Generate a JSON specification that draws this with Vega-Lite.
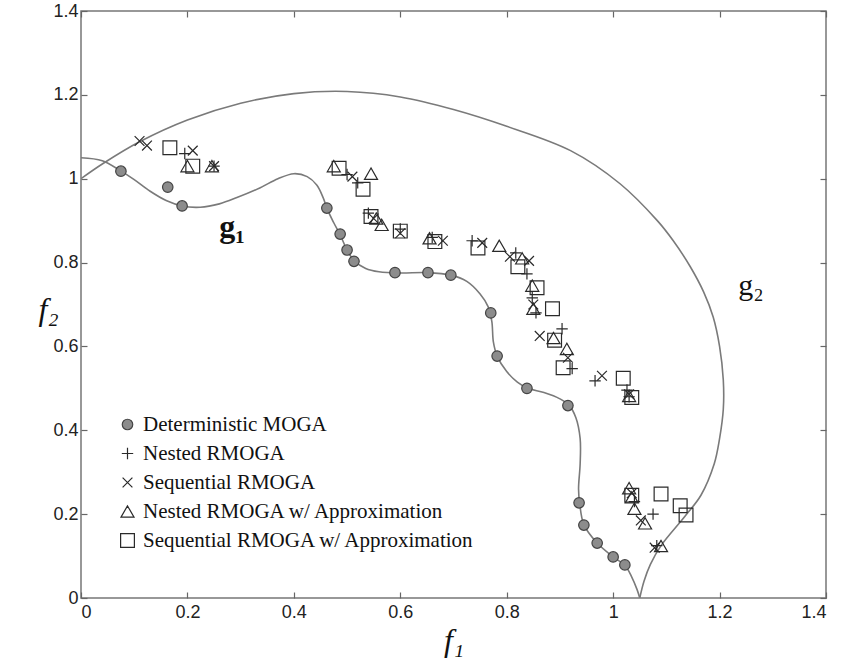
{
  "$schema": "https://vega.github.io/schema/vega-lite/v6.json",
  "autosize": {"type": "none"},
  "width": 745,
  "height": 587,
  "padding": {"left": 81, "top": 11, "right": 17, "bottom": 65},
  "background": "white",
  "config": {
    "view": {"stroke": "#777", "strokeWidth": 1.5},
    "axis": {
      "grid": false,
      "domain": false,
      "tickColor": "#666",
      "tickSize": -6,
      "tickWidth": 1.2,
      "labelFont": "Liberation Sans",
      "labelFontSize": 18,
      "labelColor": "#222",
      "titleFont": "Liberation Serif",
      "titleFontStyle": "italic",
      "titleFontWeight": "normal",
      "titleFontSize": 32,
      "titleColor": "#111"
    }
  },
  "datasets": {
    "curves": [
      {"curve": "g1", "i": 0, "f1": 0, "f2": 1.05},
      {"curve": "g1", "i": 1, "f1": 0.04, "f2": 1.043},
      {"curve": "g1", "i": 2, "f1": 0.073, "f2": 1.02},
      {"curve": "g1", "i": 3, "f1": 0.1, "f2": 0.998},
      {"curve": "g1", "i": 4, "f1": 0.13, "f2": 0.97},
      {"curve": "g1", "i": 5, "f1": 0.16, "f2": 0.948},
      {"curve": "g1", "i": 6, "f1": 0.19, "f2": 0.935},
      {"curve": "g1", "i": 7, "f1": 0.224, "f2": 0.932},
      {"curve": "g1", "i": 8, "f1": 0.26, "f2": 0.94},
      {"curve": "g1", "i": 9, "f1": 0.293, "f2": 0.955},
      {"curve": "g1", "i": 10, "f1": 0.336, "f2": 0.978},
      {"curve": "g1", "i": 11, "f1": 0.37, "f2": 1.0},
      {"curve": "g1", "i": 12, "f1": 0.4, "f2": 1.012},
      {"curve": "g1", "i": 13, "f1": 0.425, "f2": 1.005},
      {"curve": "g1", "i": 14, "f1": 0.443, "f2": 0.985},
      {"curve": "g1", "i": 15, "f1": 0.455, "f2": 0.955},
      {"curve": "g1", "i": 16, "f1": 0.463, "f2": 0.927},
      {"curve": "g1", "i": 17, "f1": 0.475, "f2": 0.895},
      {"curve": "g1", "i": 18, "f1": 0.487, "f2": 0.866},
      {"curve": "g1", "i": 19, "f1": 0.5, "f2": 0.83},
      {"curve": "g1", "i": 20, "f1": 0.513, "f2": 0.805},
      {"curve": "g1", "i": 21, "f1": 0.535, "f2": 0.786},
      {"curve": "g1", "i": 22, "f1": 0.56, "f2": 0.778},
      {"curve": "g1", "i": 23, "f1": 0.6, "f2": 0.775},
      {"curve": "g1", "i": 24, "f1": 0.65, "f2": 0.776},
      {"curve": "g1", "i": 25, "f1": 0.695, "f2": 0.77},
      {"curve": "g1", "i": 26, "f1": 0.725, "f2": 0.755},
      {"curve": "g1", "i": 27, "f1": 0.75, "f2": 0.725},
      {"curve": "g1", "i": 28, "f1": 0.765, "f2": 0.695},
      {"curve": "g1", "i": 29, "f1": 0.772, "f2": 0.66},
      {"curve": "g1", "i": 30, "f1": 0.775, "f2": 0.61},
      {"curve": "g1", "i": 31, "f1": 0.782, "f2": 0.577},
      {"curve": "g1", "i": 32, "f1": 0.8, "f2": 0.54},
      {"curve": "g1", "i": 33, "f1": 0.82, "f2": 0.515},
      {"curve": "g1", "i": 34, "f1": 0.84, "f2": 0.5},
      {"curve": "g1", "i": 35, "f1": 0.87, "f2": 0.49},
      {"curve": "g1", "i": 36, "f1": 0.9, "f2": 0.475},
      {"curve": "g1", "i": 37, "f1": 0.917, "f2": 0.46},
      {"curve": "g1", "i": 38, "f1": 0.93, "f2": 0.43},
      {"curve": "g1", "i": 39, "f1": 0.938, "f2": 0.38},
      {"curve": "g1", "i": 40, "f1": 0.938, "f2": 0.32},
      {"curve": "g1", "i": 41, "f1": 0.935, "f2": 0.26},
      {"curve": "g1", "i": 42, "f1": 0.937, "f2": 0.227},
      {"curve": "g1", "i": 43, "f1": 0.945, "f2": 0.175},
      {"curve": "g1", "i": 44, "f1": 0.97, "f2": 0.131},
      {"curve": "g1", "i": 45, "f1": 1.0, "f2": 0.098},
      {"curve": "g1", "i": 46, "f1": 1.022, "f2": 0.078},
      {"curve": "g1", "i": 47, "f1": 1.035, "f2": 0.05},
      {"curve": "g1", "i": 48, "f1": 1.045, "f2": 0.02},
      {"curve": "g1", "i": 49, "f1": 1.05, "f2": 0.0},
      {"curve": "g2", "i": 0, "f1": 0, "f2": 1.0},
      {"curve": "g2", "i": 1, "f1": 0.04, "f2": 1.035},
      {"curve": "g2", "i": 2, "f1": 0.11, "f2": 1.088},
      {"curve": "g2", "i": 3, "f1": 0.2, "f2": 1.14},
      {"curve": "g2", "i": 4, "f1": 0.3, "f2": 1.18},
      {"curve": "g2", "i": 5, "f1": 0.4, "f2": 1.203},
      {"curve": "g2", "i": 6, "f1": 0.5, "f2": 1.208},
      {"curve": "g2", "i": 7, "f1": 0.6, "f2": 1.195},
      {"curve": "g2", "i": 8, "f1": 0.7, "f2": 1.165},
      {"curve": "g2", "i": 9, "f1": 0.8, "f2": 1.125},
      {"curve": "g2", "i": 10, "f1": 0.92, "f2": 1.067},
      {"curve": "g2", "i": 11, "f1": 1.013, "f2": 0.988},
      {"curve": "g2", "i": 12, "f1": 1.083, "f2": 0.9},
      {"curve": "g2", "i": 13, "f1": 1.113, "f2": 0.852},
      {"curve": "g2", "i": 14, "f1": 1.145, "f2": 0.79},
      {"curve": "g2", "i": 15, "f1": 1.17, "f2": 0.73},
      {"curve": "g2", "i": 16, "f1": 1.188, "f2": 0.67},
      {"curve": "g2", "i": 17, "f1": 1.2, "f2": 0.6},
      {"curve": "g2", "i": 18, "f1": 1.207, "f2": 0.52},
      {"curve": "g2", "i": 19, "f1": 1.207, "f2": 0.45},
      {"curve": "g2", "i": 20, "f1": 1.2, "f2": 0.38},
      {"curve": "g2", "i": 21, "f1": 1.19, "f2": 0.32},
      {"curve": "g2", "i": 22, "f1": 1.165, "f2": 0.245},
      {"curve": "g2", "i": 23, "f1": 1.135, "f2": 0.195},
      {"curve": "g2", "i": 24, "f1": 1.09, "f2": 0.125},
      {"curve": "g2", "i": 25, "f1": 1.07, "f2": 0.08},
      {"curve": "g2", "i": 26, "f1": 1.058, "f2": 0.04},
      {"curve": "g2", "i": 27, "f1": 1.05, "f2": 0.0}
    ],
    "points": [
      {"series": "Deterministic MOGA", "f1": 0.075, "f2": 1.018},
      {"series": "Deterministic MOGA", "f1": 0.163, "f2": 0.98},
      {"series": "Deterministic MOGA", "f1": 0.19, "f2": 0.935},
      {"series": "Deterministic MOGA", "f1": 0.462, "f2": 0.93},
      {"series": "Deterministic MOGA", "f1": 0.487, "f2": 0.868},
      {"series": "Deterministic MOGA", "f1": 0.5, "f2": 0.83},
      {"series": "Deterministic MOGA", "f1": 0.513, "f2": 0.803},
      {"series": "Deterministic MOGA", "f1": 0.59, "f2": 0.776},
      {"series": "Deterministic MOGA", "f1": 0.652, "f2": 0.776},
      {"series": "Deterministic MOGA", "f1": 0.695, "f2": 0.77},
      {"series": "Deterministic MOGA", "f1": 0.77, "f2": 0.68},
      {"series": "Deterministic MOGA", "f1": 0.782, "f2": 0.577},
      {"series": "Deterministic MOGA", "f1": 0.838, "f2": 0.5},
      {"series": "Deterministic MOGA", "f1": 0.915, "f2": 0.459},
      {"series": "Deterministic MOGA", "f1": 0.936, "f2": 0.227},
      {"series": "Deterministic MOGA", "f1": 0.945, "f2": 0.174},
      {"series": "Deterministic MOGA", "f1": 0.97, "f2": 0.131},
      {"series": "Deterministic MOGA", "f1": 1.0, "f2": 0.098},
      {"series": "Deterministic MOGA", "f1": 1.022, "f2": 0.079},
      {"series": "Nested RMOGA", "f1": 0.195, "f2": 1.06},
      {"series": "Nested RMOGA", "f1": 0.25, "f2": 1.03},
      {"series": "Nested RMOGA", "f1": 0.5, "f2": 1.01},
      {"series": "Nested RMOGA", "f1": 0.52, "f2": 0.99},
      {"series": "Nested RMOGA", "f1": 0.54, "f2": 0.918},
      {"series": "Nested RMOGA", "f1": 0.6, "f2": 0.88},
      {"series": "Nested RMOGA", "f1": 0.66, "f2": 0.86},
      {"series": "Nested RMOGA", "f1": 0.735, "f2": 0.852},
      {"series": "Nested RMOGA", "f1": 0.817, "f2": 0.823},
      {"series": "Nested RMOGA", "f1": 0.838, "f2": 0.773},
      {"series": "Nested RMOGA", "f1": 0.848, "f2": 0.716},
      {"series": "Nested RMOGA", "f1": 0.855, "f2": 0.68},
      {"series": "Nested RMOGA", "f1": 0.904, "f2": 0.642},
      {"series": "Nested RMOGA", "f1": 0.923, "f2": 0.547},
      {"series": "Nested RMOGA", "f1": 0.966, "f2": 0.518},
      {"series": "Nested RMOGA", "f1": 1.026, "f2": 0.496},
      {"series": "Nested RMOGA", "f1": 1.03, "f2": 0.48},
      {"series": "Nested RMOGA", "f1": 1.04, "f2": 0.23},
      {"series": "Nested RMOGA", "f1": 1.075, "f2": 0.2},
      {"series": "Nested RMOGA", "f1": 1.082, "f2": 0.125},
      {"series": "Sequential RMOGA", "f1": 0.11, "f2": 1.09},
      {"series": "Sequential RMOGA", "f1": 0.124, "f2": 1.079},
      {"series": "Sequential RMOGA", "f1": 0.21, "f2": 1.067},
      {"series": "Sequential RMOGA", "f1": 0.25, "f2": 1.03},
      {"series": "Sequential RMOGA", "f1": 0.51, "f2": 1.005},
      {"series": "Sequential RMOGA", "f1": 0.55, "f2": 0.905},
      {"series": "Sequential RMOGA", "f1": 0.6, "f2": 0.87},
      {"series": "Sequential RMOGA", "f1": 0.68, "f2": 0.852},
      {"series": "Sequential RMOGA", "f1": 0.754, "f2": 0.847},
      {"series": "Sequential RMOGA", "f1": 0.806, "f2": 0.814},
      {"series": "Sequential RMOGA", "f1": 0.842, "f2": 0.804},
      {"series": "Sequential RMOGA", "f1": 0.85, "f2": 0.7},
      {"series": "Sequential RMOGA", "f1": 0.862, "f2": 0.625},
      {"series": "Sequential RMOGA", "f1": 0.915, "f2": 0.573},
      {"series": "Sequential RMOGA", "f1": 0.979, "f2": 0.53},
      {"series": "Sequential RMOGA", "f1": 1.03, "f2": 0.486},
      {"series": "Sequential RMOGA", "f1": 1.035, "f2": 0.25},
      {"series": "Sequential RMOGA", "f1": 1.052, "f2": 0.185},
      {"series": "Sequential RMOGA", "f1": 1.078, "f2": 0.12},
      {"series": "Nested RMOGA w/ Approximation", "f1": 0.2, "f2": 1.03},
      {"series": "Nested RMOGA w/ Approximation", "f1": 0.246, "f2": 1.03},
      {"series": "Nested RMOGA w/ Approximation", "f1": 0.475, "f2": 1.03},
      {"series": "Nested RMOGA w/ Approximation", "f1": 0.545, "f2": 1.012},
      {"series": "Nested RMOGA w/ Approximation", "f1": 0.555, "f2": 0.905},
      {"series": "Nested RMOGA w/ Approximation", "f1": 0.565, "f2": 0.89},
      {"series": "Nested RMOGA w/ Approximation", "f1": 0.655, "f2": 0.858},
      {"series": "Nested RMOGA w/ Approximation", "f1": 0.786, "f2": 0.84},
      {"series": "Nested RMOGA w/ Approximation", "f1": 0.829, "f2": 0.81},
      {"series": "Nested RMOGA w/ Approximation", "f1": 0.848, "f2": 0.745},
      {"series": "Nested RMOGA w/ Approximation", "f1": 0.85, "f2": 0.69},
      {"series": "Nested RMOGA w/ Approximation", "f1": 0.888, "f2": 0.62},
      {"series": "Nested RMOGA w/ Approximation", "f1": 0.913, "f2": 0.594},
      {"series": "Nested RMOGA w/ Approximation", "f1": 1.03, "f2": 0.482},
      {"series": "Nested RMOGA w/ Approximation", "f1": 1.03, "f2": 0.262},
      {"series": "Nested RMOGA w/ Approximation", "f1": 1.035, "f2": 0.24},
      {"series": "Nested RMOGA w/ Approximation", "f1": 1.04, "f2": 0.213},
      {"series": "Nested RMOGA w/ Approximation", "f1": 1.06, "f2": 0.178},
      {"series": "Nested RMOGA w/ Approximation", "f1": 1.09, "f2": 0.124},
      {"series": "Sequential RMOGA w/ Approximation", "f1": 0.167, "f2": 1.074},
      {"series": "Sequential RMOGA w/ Approximation", "f1": 0.21, "f2": 1.03},
      {"series": "Sequential RMOGA w/ Approximation", "f1": 0.485, "f2": 1.025},
      {"series": "Sequential RMOGA w/ Approximation", "f1": 0.53, "f2": 0.975},
      {"series": "Sequential RMOGA w/ Approximation", "f1": 0.545, "f2": 0.91},
      {"series": "Sequential RMOGA w/ Approximation", "f1": 0.6, "f2": 0.875},
      {"series": "Sequential RMOGA w/ Approximation", "f1": 0.665, "f2": 0.85},
      {"series": "Sequential RMOGA w/ Approximation", "f1": 0.746, "f2": 0.835},
      {"series": "Sequential RMOGA w/ Approximation", "f1": 0.821, "f2": 0.79},
      {"series": "Sequential RMOGA w/ Approximation", "f1": 0.857, "f2": 0.74},
      {"series": "Sequential RMOGA w/ Approximation", "f1": 0.886, "f2": 0.69},
      {"series": "Sequential RMOGA w/ Approximation", "f1": 0.89, "f2": 0.615},
      {"series": "Sequential RMOGA w/ Approximation", "f1": 0.906, "f2": 0.549},
      {"series": "Sequential RMOGA w/ Approximation", "f1": 1.019, "f2": 0.524},
      {"series": "Sequential RMOGA w/ Approximation", "f1": 1.035, "f2": 0.478},
      {"series": "Sequential RMOGA w/ Approximation", "f1": 1.035, "f2": 0.245},
      {"series": "Sequential RMOGA w/ Approximation", "f1": 1.09, "f2": 0.248},
      {"series": "Sequential RMOGA w/ Approximation", "f1": 1.126, "f2": 0.22},
      {"series": "Sequential RMOGA w/ Approximation", "f1": 1.137, "f2": 0.198}
    ],
    "labels": [
      {"label": "g₁", "f1": 0.26, "f2": 0.885, "w": "bold"},
      {"label": "g₂", "f1": 1.235, "f2": 0.745, "w": "normal"}
    ]
  },
  "resolve": {"axis": {"x": "independent", "y": "independent"}},
  "layer": [
    {
      "data": {"name": "curves"},
      "mark": {"type": "line", "color": "#7a7a7a", "strokeWidth": 1.6, "clip": true, "interpolate": "catmull-rom"},
      "encoding": {
        "x": {
          "field": "f1", "type": "quantitative",
          "scale": {"domain": [0, 1.4], "nice": false, "zero": false},
          "axis": {"values": [0, 0.2, 0.4, 0.6, 0.8, 1, 1.2, 1.4], "format": "~g", "title": "f₁", "labelFontSize": 18, "labelPadding": 11, "titlePadding": 4}
        },
        "y": {
          "field": "f2", "type": "quantitative",
          "scale": {"domain": [0, 1.4], "nice": false, "zero": false},
          "axis": {"values": [0, 0.2, 0.4, 0.6, 0.8, 1, 1.2, 1.4], "format": "~g", "title": "f₂", "labelFontSize": 18, "labelPadding": 9, "titleAngle": 0, "titleX": -33, "titleY": 298, "titleAlign": "center", "titleBaseline": "middle"}
        },
        "detail": {"field": "curve"},
        "order": {"field": "i", "type": "quantitative"}
      }
    },
    {
      "data": {"name": "points"},
      "mark": {"type": "point", "filled": true, "opacity": 1, "strokeWidth": 1.2, "clip": true},
      "encoding": {
        "x": {
          "field": "f1", "type": "quantitative",
          "axis": {"orient": "top", "values": [0, 0.2, 0.4, 0.6, 0.8, 1, 1.2, 1.4], "labels": false, "title": null}
        },
        "y": {
          "field": "f2", "type": "quantitative",
          "axis": {"orient": "right", "values": [0, 0.2, 0.4, 0.6, 0.8, 1, 1.2, 1.4], "labels": false, "title": null}
        },
        "shape": {
          "field": "series", "type": "nominal",
          "scale": {
            "domain": ["Deterministic MOGA", "Nested RMOGA", "Sequential RMOGA", "Nested RMOGA w/ Approximation", "Sequential RMOGA w/ Approximation"],
            "range": ["circle", "M-1,0L1,0M0,-1L0,1", "M-0.8,-0.8L0.8,0.8M-0.8,0.8L0.8,-0.8", "triangle-up", "square"]
          },
          "legend": {
            "orient": "none", "legendX": 36, "legendY": 403, "title": null,
            "labelFont": "Liberation Serif", "labelFontSize": 21, "labelColor": "#111",
            "labelLimit": 400, "rowPadding": 7, "labelOffset": 5, "symbolStrokeWidth": 1.2
          }
        },
        "fill": {
          "field": "series", "type": "nominal",
          "scale": {
            "domain": ["Deterministic MOGA", "Nested RMOGA", "Sequential RMOGA", "Nested RMOGA w/ Approximation", "Sequential RMOGA w/ Approximation"],
            "range": ["#8c8c8c", "transparent", "transparent", "transparent", "transparent"]
          }
        },
        "stroke": {
          "field": "series", "type": "nominal",
          "scale": {
            "domain": ["Deterministic MOGA", "Nested RMOGA", "Sequential RMOGA", "Nested RMOGA w/ Approximation", "Sequential RMOGA w/ Approximation"],
            "range": ["#444444", "#2a2a2a", "#2a2a2a", "#2a2a2a", "#2a2a2a"]
          }
        },
        "size": {
          "field": "series", "type": "nominal",
          "scale": {
            "domain": ["Deterministic MOGA", "Nested RMOGA", "Sequential RMOGA", "Nested RMOGA w/ Approximation", "Sequential RMOGA w/ Approximation"],
            "range": [110, 190, 160, 230, 170]
          }
        }
      }
    },
    {
      "data": {"name": "labels"},
      "transform": [{"filter": "datum.w == 'bold'"}],
      "mark": {"type": "text", "font": "Liberation Serif", "fontSize": 32, "fontWeight": "bold", "color": "#111", "align": "left", "baseline": "middle"},
      "encoding": {
        "x": {"field": "f1", "type": "quantitative", "axis": null},
        "y": {"field": "f2", "type": "quantitative", "axis": null},
        "text": {"field": "label"}
      }
    },
    {
      "data": {"name": "labels"},
      "transform": [{"filter": "datum.w == 'normal'"}],
      "mark": {"type": "text", "font": "Liberation Serif", "fontSize": 30, "fontWeight": "normal", "color": "#111", "align": "left", "baseline": "middle"},
      "encoding": {
        "x": {"field": "f1", "type": "quantitative", "axis": null},
        "y": {"field": "f2", "type": "quantitative", "axis": null},
        "text": {"field": "label"}
      }
    }
  ]
}
